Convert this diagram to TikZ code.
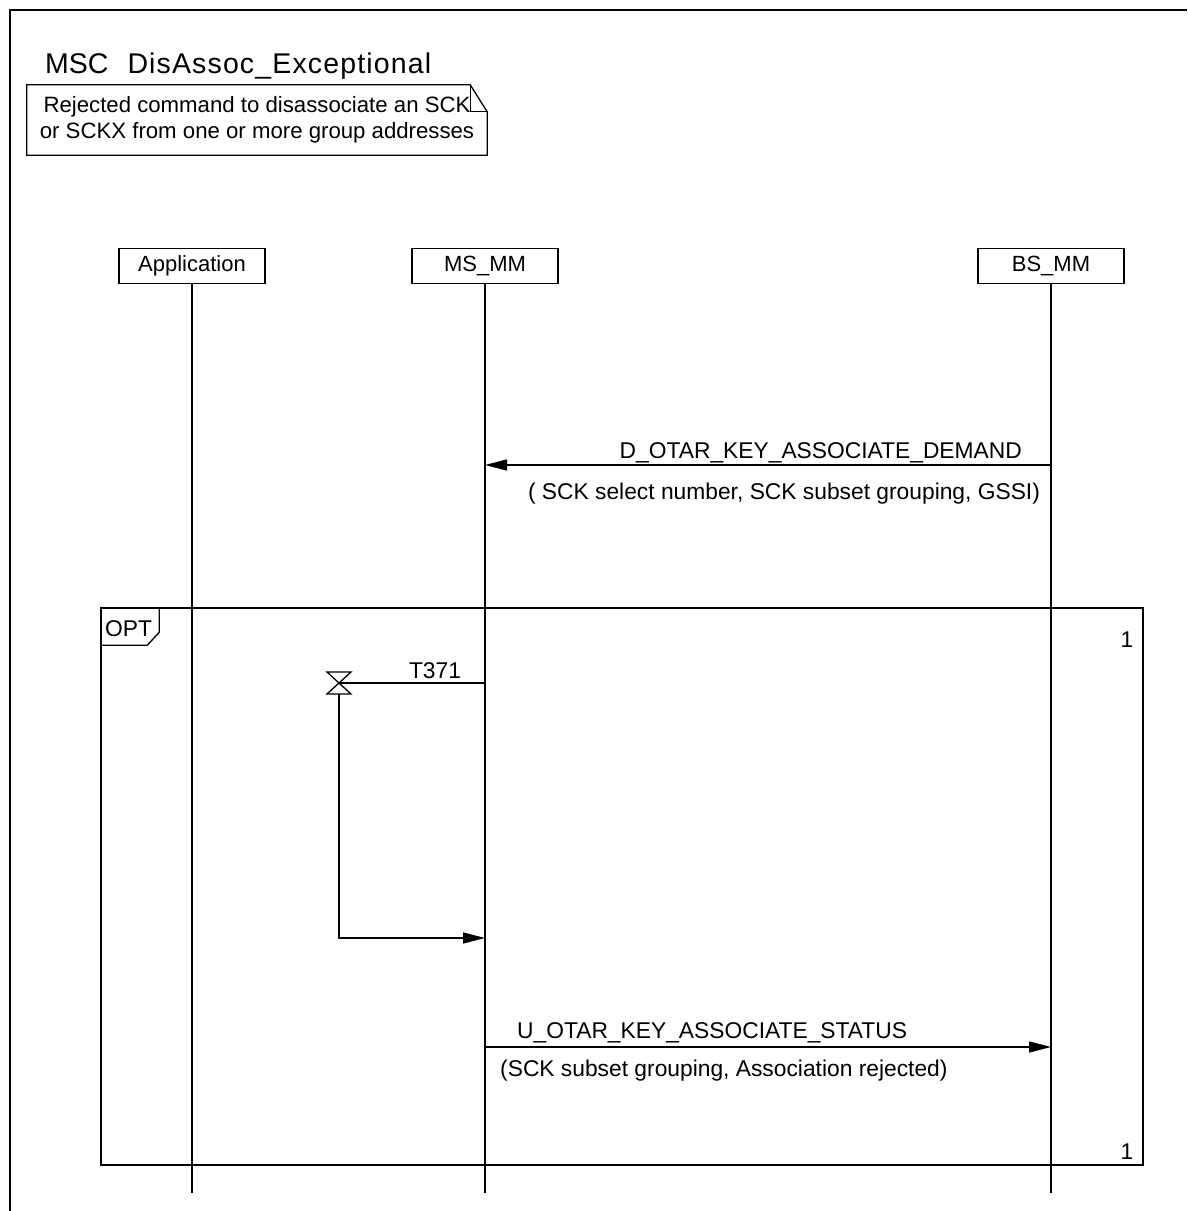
\documentclass[tikz,border=0pt]{standalone}
\usepackage{fontspec}
\setmainfont{Liberation Sans}
\usetikzlibrary{arrows.meta,positioning,calc}
\tikzset{
  % outer frame
  mscframe/.style={line width=1.8pt},
  % title and comment
  ttl/.style={font=\fontsize{28.5}{30}\selectfont,inner sep=0pt},
  notebox/.style={minimum width=460pt,minimum height=70pt,inner sep=0pt,
                  align=center,font=\fontsize{22.2}{26}\selectfont},
  % instance head
  inst/.style={rectangle,draw,line width=1.3pt,minimum width=146pt,
               minimum height=35pt,inner sep=0pt,font=\fontsize{22}{25}\selectfont},
  % lines and arrows
  life/.style={line width=1.3pt},
  msg/.style={-{Triangle[length=22pt,width=11pt]},line width=1.3pt},
  % labels
  lbl/.style={font=\fontsize{22.8}{25}\selectfont,inner sep=0pt},
  optbox/.style={draw,line width=1.5pt,inner sep=0pt}
}
\begin{document}
\begin{tikzpicture}[x=1pt,y=-1pt]
  \useasboundingbox (0,0) rectangle (1187,1211);
  \draw[mscframe] (10,1211) |- (1187,10);

  \node[ttl,anchor=base west] (title) at (45,73)
    {MSC\hspace{19pt}{\addfontfeature{LetterSpace=4}DisAssoc\_Exceptional}};
  \node[notebox] (note) at (257,120) {Rejected command to disassociate an SCK\\or SCKX from one or more group addresses};
  \draw[life] (note.north west) -- ([xshift=-17pt]note.north east) -- ([yshift=-27pt]note.north east)
              -- (note.south east) -- (note.south west) -- cycle;
  \draw[life] ([xshift=-17pt]note.north east) |- ([yshift=-27pt]note.north east);

  % instances
  \node[inst] (app)  at (192,266)  {Application};
  \node[inst] (msmm) at (485,266)  {MS\_MM};
  \node[inst] (bsmm) at (1051,266) {BS\_MM};
  \coordinate (bot) at (0,1193);
  \foreach \n in {app,msmm,bsmm} \draw[life] (\n) -- (\n |- bot);

  % demand
  \coordinate (m1) at (0,465);
  \draw[msg] (bsmm |- m1) -- (msmm |- m1);
  \node[lbl,anchor=base east] (m1t) at (1022,458) {D\_OTAR\_KEY\_ASSOCIATE\_DEMAND};
  \node[lbl,anchor=base] (m1p) at (784,499) {( SCK select number, SCK subset grouping, GSSI)};

  % opt region
  \node[optbox,minimum width=1042pt,minimum height=557pt] (opt) at (622,886.5) {};
  \draw[life] ([xshift=59pt]opt.north west) -- ++(0,25) -- ++(-12,13) -- ([yshift=-38pt]opt.north west);
  \node[lbl,anchor=base west] (optl) at (105,636) {OPT};
  \node[lbl,anchor=base] (inf1) at (1127,647) {1};
  \node[lbl,anchor=base] (inf2) at (1127,1159) {1};

  % timer T371
  \coordinate (tmr) at (339,683);
  \coordinate (tmo) at (339,938);
  \draw[life] (msmm |- tmr) -- (tmr);
  \draw[life] (tmr) ++(-12,-11) -- ++(24,0) -- ++(-24,22) -- ++(24,0) -- cycle;
  \node[lbl,anchor=base] (tlbl) at (435,678) {T371};
  \draw[msg] ([yshift=-11pt]tmr) |- (msmm |- tmo);

  % status
  \coordinate (m2) at (0,1047);
  \draw[msg] (msmm |- m2) -- (bsmm |- m2);
  \node[lbl,anchor=base west] (m2t) at (517,1038) {U\_OTAR\_KEY\_ASSOCIATE\_STATUS};
  \node[lbl,anchor=base west] (m2p) at (500,1076) {(SCK subset grouping, Association rejected)};
\end{tikzpicture}
\end{document}
